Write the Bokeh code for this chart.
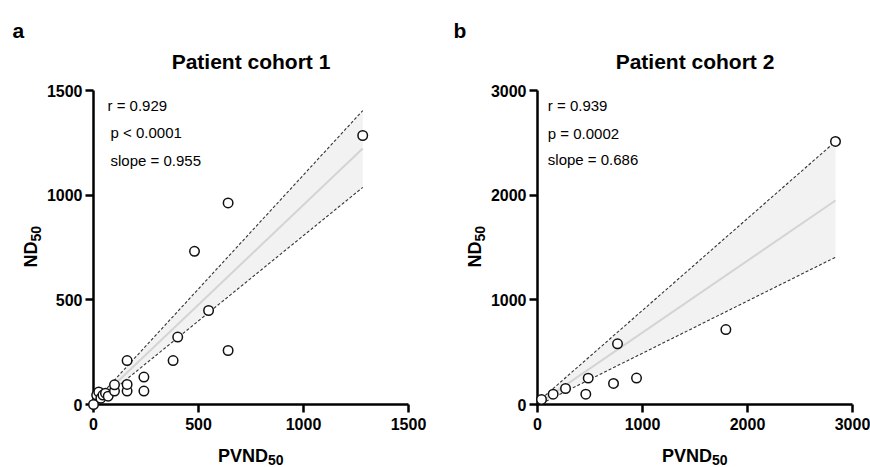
import math
from bokeh.plotting import figure
from bokeh.models import FixedTicker, Range1d
from bokeh.core.properties import value
from bokeh.layouts import row
from bokeh.embed import file_html
from bokeh.resources import INLINE

# ---------------- data ----------------
cohort1_pvnd = [0, 15, 25, 35, 45, 57, 70, 100, 100, 160, 160, 160, 240, 240, 379, 401, 481, 548, 641, 641, 1282]
cohort1_nd = [0, 45, 60, 30, 45, 54, 40, 64, 94, 64, 96, 210, 64, 131, 210, 322, 732, 449, 258, 963, 1285]
cohort1_fit_x = [0, 1282]
cohort1_fit_y = [0, 1223]
cohort1_upper = [8, 1404]
cohort1_lower = [-8, 1037]
cohort1_stats = ["r = 0.929", "p < 0.0001", "slope = 0.955"]
cohort1_ticks = [0, 500, 1000, 1500]

cohort2_pvnd = [38, 149, 267, 460, 483, 724, 762, 943, 1794, 2838]
cohort2_nd = [48, 99, 153, 99, 252, 201, 580, 252, 716, 2513]
cohort2_fit_x = [38, 2838]
cohort2_fit_y = [28, 1949]
cohort2_upper = [55, 2513]
cohort2_lower = [10, 1407]
cohort2_stats = ["r = 0.939", "p = 0.0002", "slope = 0.686"]
cohort2_ticks = [0, 1000, 2000, 3000]

FONT = "Liberation Sans"


def make_panel(letter, title, xs, ys, fx, fy, up, lo, stats, stat_x, ticks,
               frame_w, frame_h, bl, br, bt, bb, letter_dx):
    xmax = ticks[-1]
    ymax = ticks[-1]
    p = figure(frame_width=frame_w, frame_height=frame_h,
               x_range=Range1d(0, xmax), y_range=Range1d(0, ymax),
               min_border_left=bl, min_border_right=br,
               min_border_top=bt, min_border_bottom=bb,
               output_backend="svg", toolbar_location=None)
    p.outline_line_color = None
    p.xgrid.visible = False
    p.ygrid.visible = False
    p.background_fill_color = "white"
    p.border_fill_color = "white"

    p.varea(x=fx, y1=lo, y2=up, fill_color="#f2f2f2")
    p.line(fx, fy, line_color="#d4d4d4", line_width=2)
    p.line(fx, up, line_color="#333333", line_width=1.1, line_dash="3 2")
    p.line(fx, lo, line_color="#333333", line_width=1.1, line_dash="3 2")
    p.scatter(xs, ys, marker="circle", size=9.5, fill_color="white",
              line_color="#111111", line_width=1.5, level="overlay")

    for ax in (p.xaxis[0], p.yaxis[0]):
        ax.ticker = FixedTicker(ticks=ticks)
        ax.axis_line_width = 2.5
        ax.axis_line_color = "black"
        ax.major_tick_line_width = 2.5
        ax.major_tick_line_color = "black"
        ax.major_tick_out = 8
        ax.major_tick_in = 0
        ax.minor_tick_out = 0
        ax.minor_tick_in = 0
        ax.major_label_text_font = FONT
        ax.major_label_text_font_size = "16px"
        ax.major_label_text_font_style = "bold"
        ax.major_label_text_color = "black"
    p.xaxis[0].major_label_standoff = 5
    p.yaxis[0].major_label_standoff = 3

    sx = xmax / frame_w
    sy = ymax / frame_h

    def lab(px, py, text, size, style="normal", align="left", angle=0.0):
        p.text(x=[px * sx], y=[py * sy], text=[text],
               text_font=value(FONT), text_font_size=size,
               text_font_style=style, text_color="black",
               text_align=align, text_baseline="alphabetic",
               angle=angle, level="overlay")

    # panel letter and title
    lab(letter_dx, 374, letter, "21px", "bold")
    lab(frame_w / 2, 343, title, "21px", "bold", "center")
    # statistics
    for (tx, ty), t in zip(stat_x, stats):
        lab(tx, ty, t, "15px")
    # x axis label with subscript
    lab(frame_w / 2 - 33, -51, "PVND", "18px", "bold")
    lab(frame_w / 2 + 17, -55.5, "50", "14px", "bold")
    # y axis label with subscript (rotated)
    lab(-63, 137, "ND", "18px", "bold", angle=math.pi / 2)
    lab(-57.5, 163, "50", "14px", "bold", angle=math.pi / 2)
    return p


p1 = make_panel("a", "Patient cohort 1", cohort1_pvnd, cohort1_nd,
                cohort1_fit_x, cohort1_fit_y, cohort1_upper, cohort1_lower,
                cohort1_stats, [(14, 299.5), (17, 272.5), (17, 244.5)],
                cohort1_ticks, 315, 314, 93, 32, 90, 63, -81)
p2 = make_panel("b", "Patient cohort 2", cohort2_pvnd, cohort2_nd,
                cohort2_fit_x, cohort2_fit_y, cohort2_upper, cohort2_lower,
                cohort2_stats, [(10.3, 299), (10.3, 271.5), (10.3, 244.7)],
                cohort2_ticks, 315, 314, 97, 18, 90, 63, -84)

layout = row(p1, p2)
open("out.html", "w").write(file_html(layout, INLINE))
